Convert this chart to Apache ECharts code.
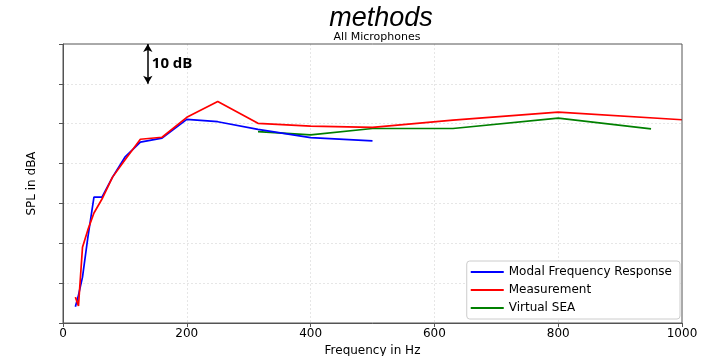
<!DOCTYPE html>
<html><head><meta charset="utf-8">
<script src="https://cdn.jsdelivr.net/npm/echarts@6/dist/echarts.min.js"></script>
<style>html,body{margin:0;padding:0;background:#fff}#c{width:717px;height:356px}</style>
</head><body><div id="c"></div>
<script>
const modalFreq = [20, 25, 31.5, 40, 50, 63, 80, 100, 125, 160, 200, 250, 315, 400, 500];
const modalSPL  = [24.1, 27.0, 31.5, 41.3, 51.6, 51.6, 56.6, 61.6, 65.4, 66.4, 71.1, 70.5, 68.6, 66.5, 65.7];
const measFreq  = [20, 25, 31.5, 40, 50, 63, 80, 100, 125, 160, 200, 250, 315, 400, 500, 630, 800, 1000];
const measSPL   = [26.5, 24.3, 39.0, 43.3, 47.6, 51.1, 56.6, 60.9, 66.1, 66.6, 71.6, 75.6, 70.1, 69.4, 69.1, 70.9, 72.9, 71.0];
const seaFreq   = [315, 400, 500, 630, 800, 950];
const seaSPL    = [68.0, 67.2, 68.8, 68.8, 71.4, 68.7];
const xTicks = [0, 200, 400, 600, 800, 1000];
const scaleBar = {freq: 137, top: 90, bottom: 80, label: '10 dB'};

const pair = (xs, ys) => xs.map((x, i) => [x, ys[i]]);
const chart = echarts.init(document.getElementById('c'));
const font = 'DejaVu Sans';
chart.setOption({
  animation: false,
  title: [
    {text: 'methods', left: 376, top: 0, textAlign: 'center',
     textStyle: {fontFamily: 'Liberation Sans', fontStyle: 'italic', fontWeight: 'normal', fontSize: 27, color: '#000'}},
    {text: 'All Microphones', left: 372, top: 27, textAlign: 'center',
     textStyle: {fontFamily: font, fontWeight: 'normal', fontSize: 11, color: '#000'}}
  ],
  grid: {left: 63, right: 35, top: 44, bottom: 33, outerBoundsMode: 'none', containLabel: false,
         show: true, borderColor: '#555', borderWidth: 1, backgroundColor: 'transparent', z: 5},
  legend: {
    orient: 'vertical', right: 37, top: 261, itemWidth: 33, itemHeight: 10, itemGap: 6,
    backgroundColor: '#fff', borderColor: '#ccc', borderWidth: 1, borderRadius: 3, padding: [5, 8, 5, 4],
    textStyle: {fontFamily: font, fontSize: 12, color: '#000'},
    data: ['Modal Frequency Response', 'Measurement', 'Virtual SEA'].map(n => ({name: n, icon: 'path://M0,4L33,4L33,6L0,6Z'}))
  },
  xAxis: {
    type: 'value', min: 0, max: 1000, interval: 200,
    name: 'Frequency in Hz', nameLocation: 'middle', nameGap: 20,
    nameTextStyle: {fontFamily: font, fontSize: 12, color: '#000'},
    axisLine: {show: true, lineStyle: {color: '#555'}},
    axisTick: {show: true, length: 4, lineStyle: {color: '#555'}},
    axisLabel: {fontFamily: font, fontSize: 12, color: '#000', margin: 5,
      formatter: v => xTicks.includes(v) ? String(v) : ''},
    splitLine: {show: true, showMinLine: false, showMaxLine: false, lineStyle: {color: '#e6e6e6', type: [2, 2]}}
  },
  yAxis: {
    type: 'value', min: 20, max: 90, interval: 10,
    name: 'SPL in dBA', nameLocation: 'middle', nameGap: 25,
    nameTextStyle: {fontFamily: font, fontSize: 12, color: '#000'},
    axisLine: {show: true, lineStyle: {color: '#555'}},
    axisTick: {show: true, length: 4, lineStyle: {color: '#555'}},
    axisLabel: {show: false},
    splitLine: {show: true, showMinLine: false, showMaxLine: false, lineStyle: {color: '#e6e6e6', type: [2, 2]}}
  },
  series: [
    {name: 'Modal Frequency Response', type: 'line', data: pair(modalFreq, modalSPL), showSymbol: false,
     lineStyle: {color: '#0000ff', width: 1.7}, itemStyle: {color: '#0000ff'}, z: 3},
    {name: 'Measurement', type: 'line', data: pair(measFreq, measSPL), showSymbol: false,
     lineStyle: {color: '#ff0000', width: 1.7}, itemStyle: {color: '#ff0000'}, z: 4,
     markLine: {silent: true, symbol: ['arrow', 'arrow'], symbolSize: [7, 8],
       lineStyle: {color: '#000', width: 1.5, type: 'solid'}, label: {show: false},
       data: [[{coord: [scaleBar.freq, scaleBar.top]}, {coord: [scaleBar.freq, scaleBar.bottom]}]]},
     markPoint: {silent: true, symbol: 'circle', symbolSize: 0,
       label: {show: true, position: 'right', distance: 4, formatter: scaleBar.label,
         fontFamily: 'Open Sans', fontWeight: 'bold', fontSize: 15, color: '#000'},
       data: [{coord: [scaleBar.freq, (scaleBar.top + scaleBar.bottom) / 2]}]}},
    {name: 'Virtual SEA', type: 'line', data: pair(seaFreq, seaSPL), showSymbol: false,
     lineStyle: {color: '#008000', width: 1.7}, itemStyle: {color: '#008000'}, z: 2}
  ]
});
</script></body></html>
